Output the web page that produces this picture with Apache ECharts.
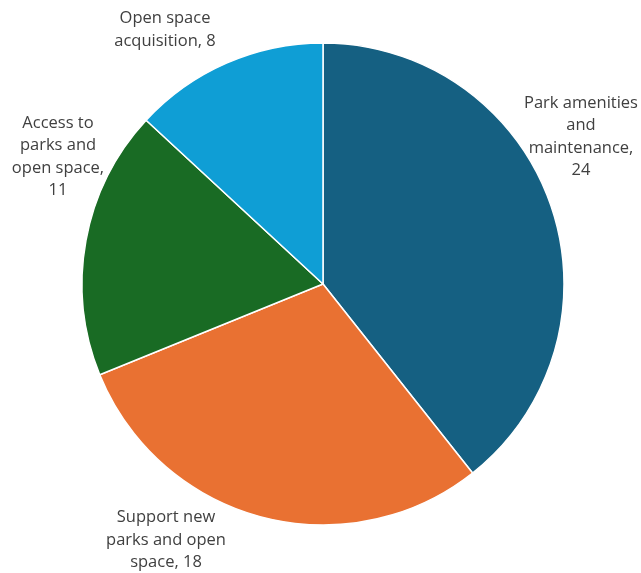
<!DOCTYPE html>
<html><head><meta charset="utf-8">
<script src="https://cdn.jsdelivr.net/npm/echarts@6/dist/echarts.min.js"></script>
<style>html,body{margin:0;padding:0;background:#fff}#c{width:641px;height:573px}</style>
</head><body><div id="c"></div>
<script>
const categories = ['Park amenities and maintenance', 'Support new parks and open space', 'Access to parks and open space', 'Open space acquisition'];
const values = [24, 18, 11, 8];
const labelTexts = [
  'Park amenities\nand\nmaintenance,\n24',
  'Support new\nparks and open\nspace, 18',
  'Access to\nparks and\nopen space,\n11',
  'Open space\nacquisition, 8'
];
const colors = ['#156082', '#E97132', '#196B24', '#0F9ED5'];
const labelPos = [[581, 137], [166, 540], [58, 157], [165, 30]];

const chart = echarts.init(document.getElementById('c'), null, {renderer: 'canvas'});
chart.setOption({
  animation: false,
  series: [{
    type: 'pie',
    center: [323, 284],
    radius: [0, 241],
    startAngle: 90,
    clockwise: true,
    data: categories.map((n, i) => ({name: n, value: values[i], itemStyle: {color: colors[i]}})),
    itemStyle: {borderColor: '#fff', borderWidth: 1.5},
    label: {
      show: true,
      position: 'outside',
      formatter: p => labelTexts[p.dataIndex],
      color: '#404040',
      fontFamily: 'Open Sans',
      fontSize: 16.5,
      lineHeight: 22.5,
      align: 'center',
      overflow: 'none',
      width: 200
    },
    labelLine: {show: false},
    labelLayout: p => ({x: labelPos[p.dataIndex][0], y: labelPos[p.dataIndex][1], align: 'center', verticalAlign: 'middle'}),
    emphasis: {disabled: true}
  }]
});
</script></body></html>
